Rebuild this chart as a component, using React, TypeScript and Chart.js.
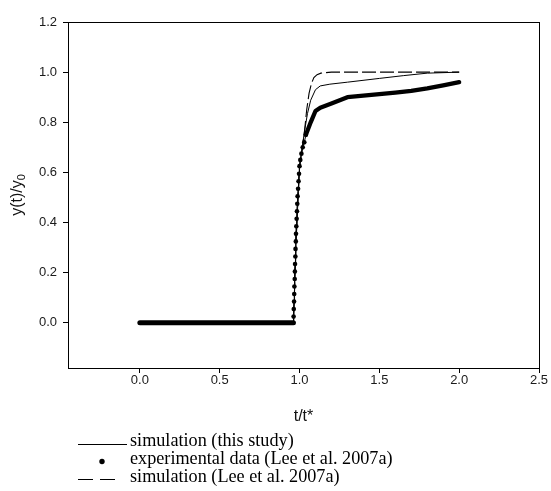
import { useEffect, useRef } from 'react';
import { Chart, registerables } from 'chart.js';

Chart.register(...registerables);

// Tick labels
const xTickValues = [0, 0.5, 1.0, 1.5, 2.0, 2.5];
const yTickValues = [0, 0.2, 0.4, 0.6, 0.8, 1.0, 1.2];

// Experimental data (Lee et al. 2007a)
const expT = [
  0, 0.04, 0.08, 0.12, 0.16, 0.2, 0.24, 0.28, 0.32, 0.36, 0.4, 0.44, 0.48,
  0.52, 0.56, 0.6, 0.64, 0.68, 0.72, 0.76, 0.8, 0.84, 0.88, 0.92, 0.962,
  0.963, 0.964, 0.966, 0.967, 0.968, 0.97, 0.971, 0.972, 0.974, 0.975, 0.977,
  0.978, 0.98, 0.982, 0.984, 0.986, 0.988, 0.991, 0.994, 0.997, 1.0, 1.005,
  1.012, 1.02, 1.03, 1.04,
  1.07, 1.1, 1.13, 1.2, 1.3, 1.4, 1.5, 1.6, 1.7, 1.8, 1.9, 2.0,
];
const expY = [
  0, 0, 0, 0, 0, 0, 0, 0, 0, 0, 0, 0, 0,
  0, 0, 0, 0, 0, 0, 0, 0, 0, 0, 0, 0,
  0.025, 0.055, 0.085, 0.115, 0.145, 0.175, 0.205, 0.235, 0.265, 0.295, 0.325,
  0.355, 0.385, 0.415, 0.445, 0.475, 0.505, 0.535, 0.565, 0.595, 0.625, 0.65,
  0.675, 0.7, 0.72, 0.75,
  0.8, 0.845, 0.858, 0.875, 0.9, 0.906, 0.912, 0.918, 0.925, 0.935, 0.947, 0.96,
];

// Simulation (this study)
const simT = [0, 0.962, 0.98, 1.0, 1.03, 1.05, 1.07, 1.1, 1.13, 1.19, 1.3, 1.5, 1.65, 1.8, 2.0];
const simY = [0, 0, 0.35, 0.62, 0.76, 0.835, 0.888, 0.93, 0.945, 0.952, 0.96, 0.975, 0.986, 0.996, 1.0];

// Simulation (Lee et al. 2007a)
const leeT = [0, 0.962, 0.98, 1.0, 1.03, 1.045, 1.06, 1.075, 1.09, 1.11, 1.134, 1.2, 2.0];
const leeY = [0, 0, 0.35, 0.62, 0.756, 0.85, 0.916, 0.955, 0.978, 0.99, 0.996, 1.0, 1.0];

// Text
const xTitle = 't/t*';
const yTitleMain = 'y(t)/y';
const yTitleSub = '0';
const legendLabels = [
  'simulation (this study)',
  'experimental data (Lee et al. 2007a)',
  'simulation (Lee et al. 2007a)',
];

const toPts = (xs: number[], ys: number[]) => xs.map((x, i) => ({ x, y: ys[i] }));

const decorPlugin = {
  id: 'decor',
  afterDraw(chart: any) {
    const ctx = chart.ctx as CanvasRenderingContext2D;
    const a = chart.chartArea;
    ctx.save();
    // frame
    ctx.strokeStyle = '#000';
    ctx.lineWidth = 1;
    ctx.strokeRect(Math.round(a.left) + 0.5, Math.round(a.top) + 0.5, Math.round(a.right - a.left), Math.round(a.bottom - a.top));

    // x title
    ctx.fillStyle = '#111';
    ctx.font = '16px "Liberation Sans", Arial, sans-serif';
    ctx.textAlign = 'center';
    ctx.textBaseline = 'middle';
    ctx.fillText(xTitle, (a.left + a.right) / 2, 417);

    // y title rotated with subscript
    ctx.save();
    ctx.translate(16, 195);
    ctx.rotate(-Math.PI / 2);
    ctx.font = '16px "Liberation Sans", Arial, sans-serif';
    const wMain = ctx.measureText(yTitleMain).width;
    ctx.font = '11px "Liberation Sans", Arial, sans-serif';
    const wSub = ctx.measureText(yTitleSub).width;
    const total = wMain + wSub;
    ctx.textAlign = 'left';
    ctx.textBaseline = 'alphabetic';
    ctx.font = '16px "Liberation Sans", Arial, sans-serif';
    ctx.fillText(yTitleMain, -total / 2, 6);
    ctx.font = '11px "Liberation Sans", Arial, sans-serif';
    ctx.fillText(yTitleSub, -total / 2 + wMain, 9);
    ctx.restore();

    // legend
    const rows = [441, 459, 477];
    ctx.font = '18.2px "Liberation Serif", "Times New Roman", serif';
    ctx.textAlign = 'left';
    ctx.textBaseline = 'middle';
    ctx.fillStyle = '#000';
    legendLabels.forEach((t, i) => ctx.fillText(t, 130, rows[i]));
    ctx.strokeStyle = '#000';
    ctx.lineWidth = 1;
    ctx.beginPath();
    ctx.moveTo(78, rows[0] + 3.5);
    ctx.lineTo(127, rows[0] + 3.5);
    ctx.stroke();
    ctx.beginPath();
    ctx.arc(102, rows[1] + 2.5, 2.7, 0, Math.PI * 2);
    ctx.fill();
    ctx.beginPath();
    ctx.moveTo(78, rows[2] + 2.5);
    ctx.lineTo(93, rows[2] + 2.5);
    ctx.moveTo(100, rows[2] + 2.5);
    ctx.lineTo(115, rows[2] + 2.5);
    ctx.stroke();
    ctx.restore();
  },
};

export default function App() {
  const ref = useRef<HTMLCanvasElement | null>(null);
  useEffect(() => {
    if (!ref.current) return;
    const tickFont = { family: '"Liberation Sans", Arial, sans-serif', size: 13 };
    const chart = new Chart(ref.current, {
      type: 'line',
      data: {
        datasets: [
          {
            label: legendLabels[2],
            data: toPts(leeT, leeY),
            borderColor: '#000',
            borderWidth: 1.1,
            borderDash: [14, 4],
            pointRadius: 0,
            tension: 0,
            fill: false,
          },
          {
            label: legendLabels[0],
            data: toPts(simT, simY),
            borderColor: '#000',
            borderWidth: 1,
            pointRadius: 0,
            tension: 0,
            fill: false,
          },
          {
            label: legendLabels[1],
            data: toPts(expT, expY),
            borderColor: '#000',
            backgroundColor: '#000',
            borderCapStyle: 'round',
            borderJoinStyle: 'round',
            borderWidth: 1,
            segment: {
              borderWidth: (c: any) => {
                const y0 = c.p0.parsed.y;
                const y1 = c.p1.parsed.y;
                if (y0 === 0 && y1 === 0) return 5;
                if (y0 >= 0.74 && y1 >= 0.74) return 4.3;
                return 1;
              },
            },
            pointRadius: (c: any) => {
              const y = c.raw ? c.raw.y : 0;
              return y > 0 && y < 0.76 ? 2.3 : 0;
            },
            pointBorderWidth: 0,
            pointHoverRadius: 0,
            tension: 0,
            fill: false,
          } as any,
        ],
      },
      options: {
        animation: false,
        responsive: false,
        layout: { padding: { top: 22, right: 12, left: 0, bottom: 0 } },
        plugins: { legend: { display: false }, tooltip: { enabled: false } },
        scales: {
          x: {
            type: 'linear',
            min: -0.45,
            max: 2.5,
            afterBuildTicks: (s: any) => {
              s.ticks = xTickValues.map((v) => ({ value: v }));
            },
            afterFit: (s: any) => {
              s.height = 123;
            },
            ticks: {
              font: tickFont,
              color: '#1a1a1a',
              padding: 0,
              maxRotation: 0,
              autoSkip: false,
              callback: (v: any) => Number(v).toFixed(1),
            },
            grid: { drawOnChartArea: false, drawTicks: true, tickLength: 5, color: '#000' },
            border: { display: false },
          },
          y: {
            type: 'linear',
            min: -0.18,
            max: 1.2,
            afterBuildTicks: (s: any) => {
              s.ticks = yTickValues.map((v) => ({ value: v }));
            },
            afterFit: (s: any) => {
              s.width = 68;
            },
            ticks: {
              font: tickFont,
              color: '#1a1a1a',
              padding: 6,
              autoSkip: false,
              callback: (v: any) => Number(v).toFixed(1),
            },
            grid: { drawOnChartArea: false, drawTicks: true, tickLength: 5, color: '#000' },
            border: { display: false },
          },
        },
      },
      plugins: [decorPlugin],
    });
    return () => chart.destroy();
  }, []);
  return (
    <div style={{ position: 'absolute', left: 0, top: 0, width: 551, height: 491, background: '#fff' }}>
      <canvas ref={ref} width={551} height={491} style={{ display: 'block' }} />
    </div>
  );
}
